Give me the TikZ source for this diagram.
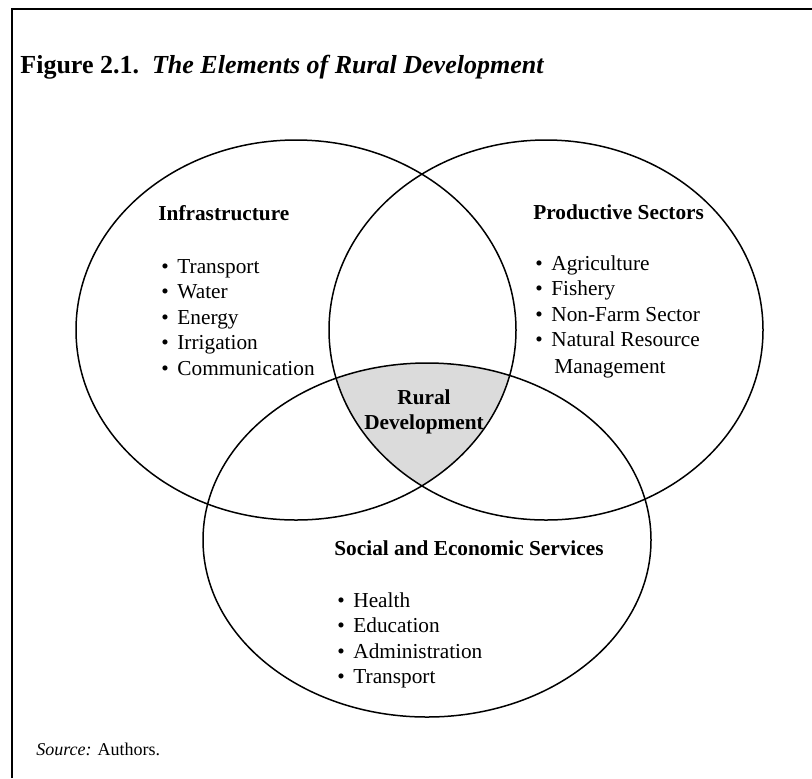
\documentclass[tikz,border=0pt]{standalone}
\usepackage{fontspec}
\setmainfont{Liberation Serif}
\usetikzlibrary{positioning}

\definecolor{coregray}{gray}{0.86}
\newcommand{\bulletitem}[1]{\makebox[8pt][l]{\textbullet}#1}

\begin{document}
\begin{tikzpicture}[x=0.5pt,y=-0.5pt,
    venn/.style={line width=0.75pt},
    head/.style={anchor=base west,inner sep=0pt,font=\fontsize{10.65}{12.75}\selectfont\bfseries},
    item/.style={anchor=base west,inner sep=0pt,font=\fontsize{10.65}{12.75}\selectfont}]
    \useasboundingbox (0,0) rectangle (812,778);

    % frame, open to the right and below
    \draw[line width=1pt] (12,778) -- (12,9) -- (812,9);

    % title
    \node[anchor=base west,inner sep=0pt,font=\fontsize{13}{15.6}\selectfont\bfseries] (title) at (20,73)
        {Figure 2.1.\ \ \textit{The Elements of Rural Development}};

    % shaded core where all three sets meet
    \begin{scope}
        \clip (296,330) ellipse [x radius=220, y radius=190];
        \clip (546,330) ellipse [x radius=217, y radius=190];
        \fill[coregray] (427,540) ellipse [x radius=224, y radius=177];
    \end{scope}

    % the three sets
    \draw[venn] (296,330) ellipse [x radius=220, y radius=190];
    \draw[venn] (546,330) ellipse [x radius=217, y radius=190];
    \draw[venn] (427,540) ellipse [x radius=224, y radius=177];

    % infrastructure
    \node[head] (infra) at (158,220) {Infrastructure};
    \foreach \txt [count=\i] in {Transport,Water,Energy,Irrigation,Communication}
        \node[item] (infra\i) at (161,273+25.5*\i-25.5) {\bulletitem{\txt}};

    % productive sectors
    \node[head] (prod) at (533,219) {Productive Sectors};
    \foreach \txt [count=\i] in {Agriculture,Fishery,Non-Farm Sector,Natural Resource}
        \node[item] (prod\i) at (535,270+25.5*\i-25.5) {\bulletitem{\txt}};
    \node[item] (prod5) at (554,373) {Management};

    % social and economic services
    \node[head] (serv) at (334,555) {Social and Economic Services};
    \foreach \txt [count=\i] in {Health,Education,Administration,Transport}
        \node[item] (serv\i) at (337,607+25.5*\i-25.5) {\bulletitem{\txt}};

    % core
    \node[head,anchor=base] (rural) at (424,404) {Rural};
    \node[head,anchor=base] (devel) at (424,429) {Development};

    % source
    \node[anchor=base west,inner sep=0pt,font=\fontsize{9}{10.8}\selectfont] (src) at (36,755)
        {\textit{Source:} Authors.};
\end{tikzpicture}
\end{document}
